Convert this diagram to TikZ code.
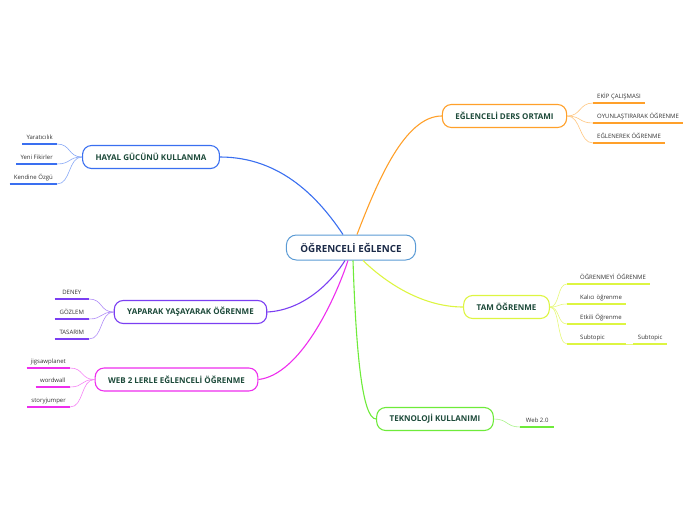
\documentclass[tikz,border=0pt]{standalone}
\usepackage{fontspec}
\setmainfont{Open Sans}
\usetikzlibrary{calc,positioning}
\definecolor{rootc}{HTML}{5B9BD5}
\definecolor{roott}{HTML}{1B2A48}
\definecolor{txtc}{HTML}{1D4A3A}
\definecolor{hayalc}{HTML}{3A6FF0}
\definecolor{eglc}{HTML}{FFA02A}
\definecolor{yapc}{HTML}{7B3FF2}
\definecolor{webc}{HTML}{EE2EEE}
\definecolor{tamc}{HTML}{DDF542}
\definecolor{tekc}{HTML}{6EEB3A}

\begin{document}
\begin{tikzpicture}[x=1pt,y=-1pt,
  branch/.style={draw,line width=1.1pt,rounded corners=9pt,fill=white,minimum height=23pt,
                 inner xsep=13pt,font=\fontsize{8}{9}\selectfont\bfseries,text=txtc},
  leaf/.style={font=\fontsize{6}{7}\selectfont,text=black!80,minimum width=34pt,inner xsep=4pt,
               inner ysep=3pt,text height=4.5pt,text depth=1.5pt},
  link/.style={line width=1.1pt},
  twig/.style={line width=0.6pt},
  uline/.style={line width=1.4pt}]
  \useasboundingbox (0,0) rectangle (696,520);
  % central topic
  \node[draw=rootc,line width=1pt,rounded corners=10pt,fill=white,minimum height=25pt,inner xsep=14pt,
        font=\fontsize{9.8}{11}\selectfont\bfseries,text=roott] (root) at (351,247.5) {ÖĞRENCELİ EĞLENCE};
  % main branches
  \node[branch,draw=hayalc] (hayal) at (151,157) {HAYAL GÜCÜNÜ KULLANMA};
  \node[branch,draw=eglc] (egl) at (504.5,116) {EĞLENCELİ DERS ORTAMI};
  \node[branch,draw=yapc] (yap) at (190.5,312) {YAPARAK YAŞAYARAK ÖĞRENME};
  \node[branch,draw=webc] (web) at (176.5,379.5) {WEB 2 LERLE EĞLENCELİ ÖĞRENME};
  \node[branch,draw=tamc] (tam) at (506.5,307) {TAM ÖĞRENME};
  \node[branch,draw=tekc] (tek) at (435,419) {TEKNOLOJİ KULLANIMI};
  \draw[link,hayalc] (hayal.east) .. controls (282,157) and (320,200) .. ([xshift=-8pt]root.north);
  \draw[link,eglc] ([xshift=6pt]root.north) .. controls (378,180) and (405,116) .. (egl.west);
  \draw[link,yapc] (yap.east) .. controls (305,310) and (333,280) .. ([xshift=-6pt]root.south);
  \draw[link,webc] (web.east) .. controls (300,375) and (335,300) .. ([xshift=-3pt]root.south);
  \draw[link,tekc] ([xshift=2pt]root.south) .. controls (356,350) and (362,419) .. (tek.west);
  \draw[link,tamc] ([xshift=12pt]root.south) .. controls (383,280) and (420,307) .. (tam.west);
  % subtopics on the left
  \foreach \t/\y [count=\i] in {Yaratıcılık/144,Yeni Fikirler/164,Kendine Özgü/184}{
    \node[leaf,anchor=south east] (h\i) at (57,\y) {\t};
    \draw[twig,hayalc!60] (hayal.west) .. controls +(-14,0) and +(14,0) .. (h\i.south east);
    \draw[uline,hayalc] (h\i.south west) -- (h\i.south east);
  }
  \foreach \t/\y [count=\i] in {DENEY/299,GÖZLEM/319,TASARIM/339}{
    \node[leaf,anchor=south east] (y\i) at (89,\y) {\t};
    \draw[twig,yapc!60] (yap.west) .. controls +(-14,0) and +(14,0) .. (y\i.south east);
    \draw[uline,yapc] (y\i.south west) -- (y\i.south east);
  }
  \foreach \t/\y [count=\i] in {jigsawplanet/368,wordwall/387,storyjumper/407}{
    \node[leaf,anchor=south east] (w\i) at (70,\y) {\t};
    \draw[twig,webc!60] (web.west) .. controls +(-14,0) and +(14,0) .. (w\i.south east);
    \draw[uline,webc] (w\i.south west) -- (w\i.south east);
  }
  % subtopics on the right
  \foreach \t/\y [count=\i] in {EKİP ÇALIŞMASI/103,OYUNLAŞTIRARAK ÖĞRENME/123,EĞLENEREK ÖĞRENME/143}{
    \node[leaf,anchor=south west] (e\i) at (593,\y) {\t};
    \draw[twig,eglc!60] (egl.east) .. controls +(14,0) and +(-14,0) .. (e\i.south west);
    \draw[uline,eglc] (e\i.south west) -- (e\i.south east);
  }
  \foreach \t/\y/\w [count=\i] in {ÖĞRENMEYİ ÖĞRENME/284/75,Kalıcı öğrenme/304/51,Etkili Öğrenme/324/51,Subtopic/344/51}{
    \node[leaf,anchor=south west,text width=\w pt,align=left]
      (t\i) at (567,\y) {\hspace*{9pt}\t};
    \draw[twig,tamc!70] (tam.east) .. controls +(10,0) and +(-10,0) .. (t\i.south west);
    \draw[uline,tamc] (t\i.south west) -- (t\i.south east);
  }
  \node[leaf,anchor=south west] (t5) at (633,344) {Subtopic};
  \draw[twig,tamc!70] (t4.south east) -- (t5.south west);
  \draw[uline,tamc] (t5.south west) -- (t5.south east);
  \node[leaf,anchor=south west] (k1) at (520,427) {Web 2.0};
  \draw[twig,tekc!60] (tek.east) .. controls +(14,0) and +(-14,0) .. (k1.south west);
  \draw[uline,tekc] (k1.south west) -- (k1.south east);
\end{tikzpicture}
\end{document}
